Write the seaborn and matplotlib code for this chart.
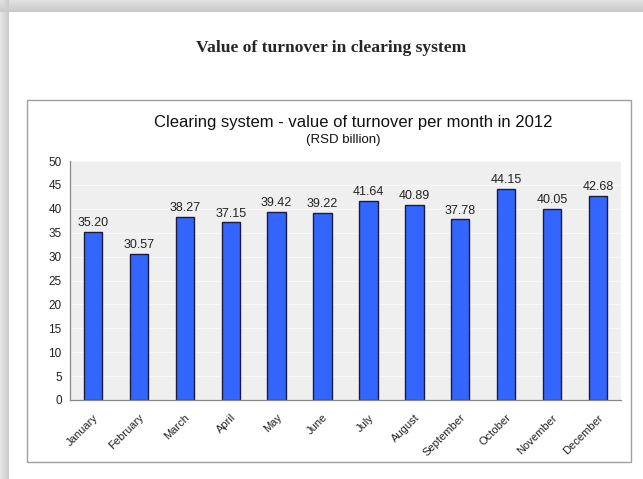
import numpy as np
import pandas as pd
import matplotlib
matplotlib.use("Agg")
import matplotlib.pyplot as plt
from matplotlib.patches import Rectangle
import seaborn as sns

months = ["January", "February", "March", "April", "May", "June", "July",
          "August", "September", "October", "November", "December"]
turnover = [35.20, 30.57, 38.27, 37.15, 39.42, 39.22, 41.64,
            40.89, 37.78, 44.15, 40.05, 42.68]
y_ticks = [0, 5, 10, 15, 20, 25, 30, 35, 40, 45, 50]

page_title = "Value of turnover in clearing system"
chart_title = "Clearing system - value of turnover per month in 2012"
chart_subtitle = "(RSD billion)"

df = pd.DataFrame({"month": months, "value": turnover})

sns.set_theme(style="white")
plt.rcParams["font.family"] = ["Liberation Sans", "DejaVu Sans"]

W, H = 643, 479
fig = plt.figure(figsize=(W / 100, H / 100), dpi=100)
fig.patch.set_facecolor("white")

# page with soft drop shadow along the top and left edges
bg = fig.add_axes([0, 0, 1, 1])
bg.set_axis_off()
img = np.ones((H, W))
yy, xx = np.mgrid[0:H, 0:W]
top_edge, left_edge = 12, 9
shadow = np.zeros((H, W))
top = yy < top_edge
shadow[top] = np.maximum(shadow[top], 0.12 + 0.10 * (yy[top] / top_edge))
left = xx < left_edge
shadow[left] = np.maximum(shadow[left], 0.10 + 0.12 * (xx[left] / left_edge))
img = img - shadow
bg.imshow(img, cmap="gray", vmin=0, vmax=1, extent=[0, W, H, 0],
          aspect="auto", interpolation="bilinear")
bg.set_xlim(0, W)
bg.set_ylim(H, 0)

# chart frame
bg.add_patch(Rectangle((27, 100), 604, 362, facecolor="white",
                       edgecolor="#a0a0a0", linewidth=1.0))

fig.text(331 / W, 1 - 48 / H, page_title, ha="center", va="center",
         fontsize=12.6, fontweight="bold", family=["Liberation Serif", "DejaVu Serif"])
fig.text(353 / W, 1 - 123 / H, chart_title, ha="center", va="center",
         fontsize=12, color="#111111")
fig.text(343 / W, 1 - 140 / H, chart_subtitle, ha="center", va="center",
         fontsize=9.5, color="#111111")

ax = fig.add_axes([70 / W, 1 - 400 / H, (621 - 70) / W, (400 - 161) / H])
ax.set_facecolor("#efefef")
sns.barplot(data=df, x="month", y="value", color="#3366ff", saturation=1,
            width=0.4, edgecolor="#1c1c3a", linewidth=1.0, ax=ax)

ax.set_ylim(0, 50)
ax.set_xlim(-0.5, len(months) - 0.5)
ax.set_yticks(y_ticks)
ax.set_yticklabels([str(t) for t in y_ticks], fontsize=8.5, color="#222222")
for t in y_ticks[1:]:
    ax.axhline(t, color="#f8f8f8", linewidth=0.8, zorder=0)
ax.set_xticks(range(len(months)))
ax.set_xticklabels(months, rotation=45, ha="right", rotation_mode="anchor",
                   fontsize=8, color="#222222")
ax.set_xticks(np.arange(-0.5, len(months), 1.0), minor=True)
ax.tick_params(axis="x", which="major", length=0, pad=9)
ax.tick_params(axis="x", which="minor", length=4, width=0.8, color="#888888", direction="out")
ax.tick_params(axis="y", length=3, width=0.8, color="#888888", direction="out", pad=3)
ax.set_xlabel("")
ax.set_ylabel("")
for side in ["top", "right"]:
    ax.spines[side].set_visible(False)
for side in ["left", "bottom"]:
    ax.spines[side].set_color("#888888")
    ax.spines[side].set_linewidth(0.9)

ax.bar_label(ax.containers[0], labels=[f"{v:.2f}" for v in turnover],
             padding=2, fontsize=9, color="#222222")

fig.savefig("out.png", dpi=100)
